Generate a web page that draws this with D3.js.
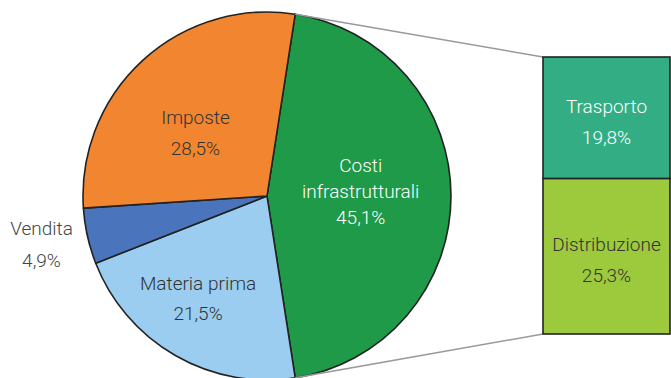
<!DOCTYPE html>
<html><head><meta charset="utf-8">
<script src="https://cdn.jsdelivr.net/npm/d3@7"></script>
<style>
html,body{margin:0;padding:0;background:#fff;}
svg{display:block;}
text{font-family:Roboto,"Liberation Sans",sans-serif;font-weight:300;font-size:19px;}
</style></head>
<body>
<svg id="chart" width="671" height="378"></svg>
<script>
// Pie data (clockwise from the "infrastructure" slice)
const pieCategories = ["Costi infrastrutturali", "Materia prima", "Vendita", "Imposte"];
const pieValues = [45.1, 21.5, 4.9, 28.5];
const pieLabels = ["45,1%", "21,5%", "4,9%", "28,5%"];
// Breakdown of the infrastructure costs
const barCategories = ["Trasporto", "Distribuzione"];
const barValues = [19.8, 25.3];
const barLabels = ["19,8%", "25,3%"];

const pieColors = ["#1e9a48", "#9acdef", "#4a74bb", "#f2852f"];
const pieTextColors = ["#ffffff", "#333333", "#444444", "#333333"];
const barColors = ["#33ae84", "#9dc93c"];
const barTextColors = ["#ffffff", "#333333"];

const svg = d3.select("#chart");
const cx = 267, cy = 196, R = 184;

const total = d3.sum(pieValues);
const half = pieValues[0] / total * Math.PI;
const pie = d3.pie().sort(null)
  .startAngle(Math.PI / 2 - half)
  .endAngle(Math.PI / 2 - half + 2 * Math.PI);
const arcs = pie(pieValues);
const arc = d3.arc().innerRadius(0).outerRadius(R);

const g = svg.append("g").attr("transform", `translate(${cx},${cy})`);

// Bar (stacked breakdown)
const barX0 = 543, barX1 = 670;
const yScale = d3.scaleLinear().domain([0, d3.sum(barValues)]).range([57, 334]);
let cum = 0;
const segs = barValues.map((v, i) => { const s = {i, y0: cum, y1: cum + v}; cum += v; return s; });

// connector lines from infrastructure slice edges to bar
const a0 = arcs[0].startAngle, a1 = arcs[0].endAngle;
const pTop = [cx + R * Math.sin(a0), cy - R * Math.cos(a0)];
const pBot = [cx + R * Math.sin(a1), cy - R * Math.cos(a1)];
svg.append("line").attr("x1", pTop[0]).attr("y1", pTop[1]).attr("x2", barX0).attr("y2", yScale(0))
  .attr("stroke", "#999").attr("stroke-width", 1.5);
svg.append("line").attr("x1", pBot[0]).attr("y1", pBot[1]).attr("x2", barX0).attr("y2", yScale(d3.sum(barValues)))
  .attr("stroke", "#999").attr("stroke-width", 1.5);

g.selectAll("path.slice").data(arcs).enter().append("path")
  .attr("class", "slice")
  .attr("d", arc)
  .attr("fill", (d, i) => pieColors[i])
  .attr("stroke", "#222").attr("stroke-width", 1.6).attr("stroke-linejoin", "round");

svg.selectAll("rect.seg").data(segs).enter().append("rect")
  .attr("class", "seg")
  .attr("x", barX0).attr("width", barX1 - barX0)
  .attr("y", d => yScale(d.y0)).attr("height", d => yScale(d.y1) - yScale(d.y0))
  .attr("fill", d => barColors[d.i])
  .attr("stroke", "#222").attr("stroke-width", 1.6);

// pie labels
const labelRadius = [0.51, 0.669, 1.253, 0.52];
const labelAngleShift = [-0.05, 0.073, 0.01, -0.103];
const lineHeights = [26, 30, 32, 31];
function multiline(sel, lines, x, yc, lh, color) {
  const n = lines.length;
  const t = sel.append("text").attr("text-anchor", "middle").attr("fill", color);
  lines.forEach((l, k) => {
    t.append("tspan").attr("x", x).attr("y", yc + (k - (n - 1) / 2) * lh).attr("dy", "0.35em").text(l);
  });
}
arcs.forEach((d, i) => {
  const mid = (d.startAngle + d.endAngle) / 2 + labelAngleShift[i];
  const r = R * labelRadius[i];
  const x = cx + r * Math.sin(mid), yc = cy - r * Math.cos(mid);
  const words = i === 0 ? pieCategories[i].split(" ") : [pieCategories[i]];
  multiline(svg, words.concat([pieLabels[i]]), x, yc, lineHeights[i], pieTextColors[i]);
});

segs.forEach(s => {
  const yc = (yScale(s.y0) + yScale(s.y1)) / 2 + 4;
  multiline(svg, [barCategories[s.i], barLabels[s.i]], (barX0 + barX1) / 2, yc, 31, barTextColors[s.i]);
});
</script>
</body></html>
